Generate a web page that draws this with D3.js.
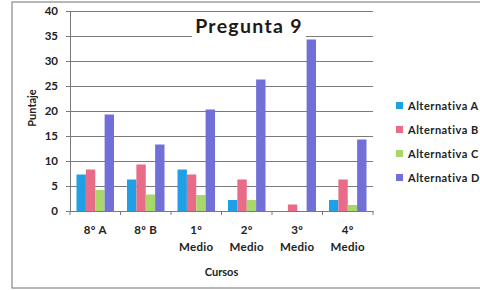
<!DOCTYPE html>
<html><head><meta charset="utf-8">
<script src="https://cdn.jsdelivr.net/npm/d3@7"></script>
<style>body{margin:0;background:#fff}svg{display:block}</style>
</head><body>
<svg id="c" width="480" height="290"></svg>
<script>
const categories = [["8º A"],["8º B"],["1º","Medio"],["2º","Medio"],["3º","Medio"],["4º","Medio"]];
const seriesNames = ["Alternativa A","Alternativa B","Alternativa C","Alternativa D"];
const altA = [7.3, 6.3, 8.3, 2.2, 0, 2.2];
const altB = [8.3, 9.3, 7.3, 6.3, 1.3, 6.3];
const altC = [4.2, 3.3, 3.2, 2.2, 0, 1.2];
const altD = [19.3, 13.3, 20.3, 26.3, 34.3, 14.3];
const yTicks = [0,5,10,15,20,25,30,35,40];
const colors = ["#1e9fe6","#e86c88","#a8d86c","#7070d8"];
const series = [altA, altB, altC, altD];

(function(){
const svg = d3.select("#c");
const font = "Lato, 'Open Sans', sans-serif";
// outer frame
svg.append("rect").attr("x",12).attr("y",2).attr("width",480).attr("height",286)
  .attr("fill","#fff").attr("stroke","#888").attr("stroke-width",1.2);

const pl = 70, pr = 373, pt = 11, pb = 211;
const x = d3.scaleBand().domain(d3.range(categories.length)).range([pl, pr]);
const y = d3.scaleLinear().domain([0,40]).range([pb, pt]);
const xs = d3.scaleBand().domain(d3.range(series.length)).range([6.5, x.bandwidth()-6.5]);

// gridlines
svg.append("g").selectAll("line").data(yTicks).join("line")
  .attr("x1", pl-4).attr("x2", pr).attr("y1", d=>y(d)+0.5).attr("y2", d=>y(d)+0.5)
  .attr("stroke","#7a7a7a").attr("stroke-width",1);

// title with white backing
const tg = svg.append("g");
tg.append("rect").attr("x",192).attr("y",26).attr("width",114).attr("height",14).attr("fill","#fff");
tg.append("text").attr("x",249).attr("y",33).attr("text-anchor","middle")
  .attr("font-family",font).attr("font-weight","bold").attr("font-size",19.5)
  .attr("letter-spacing",1.3).attr("fill","#1a1a1a")
  .text("Pregunta 9");

// bars
series.forEach((s, si) => {
  svg.append("g").selectAll("rect").data(s).join("rect")
    .attr("x", (d,i)=>x(i)+xs(si)).attr("width", xs.bandwidth())
    .attr("y", d=>y(d)).attr("height", d=>y(0)-y(d)).attr("fill", colors[si]);
});

// y axis
const ya = svg.append("g").attr("transform",`translate(${pl},0)`)
  .call(d3.axisLeft(y).tickValues(yTicks).tickSize(4).tickPadding(8));
ya.select(".domain").attr("stroke","#7a7a7a");
ya.selectAll(".tick line").attr("stroke","#7a7a7a");
ya.selectAll("text").attr("font-family",font).attr("font-weight","bold").attr("font-size",11.5).attr("fill","#222");

// x axis
const xa = svg.append("g").attr("transform",`translate(0,${pb})`)
  .call(d3.axisBottom(x).tickValues([]).tickSizeOuter(0));
xa.select(".domain").attr("stroke","#7a7a7a");
const xt = d3.range(categories.length+1).map(i => pl + i*x.bandwidth());
svg.append("g").selectAll("line").data(xt).join("line")
  .attr("x1",d=>d).attr("x2",d=>d).attr("y1",pb).attr("y2",pb+4).attr("stroke","#7a7a7a");
svg.append("g").selectAll("text").data(categories).join("text")
  .attr("x",(d,i)=>x(i)+x.bandwidth()/2).attr("y",234)
  .attr("text-anchor","middle").attr("font-family",font).attr("font-weight","bold")
  .attr("font-size",11.5).attr("letter-spacing",0.3).attr("fill","#222")
  .each(function(d){
    const t = d3.select(this);
    d.forEach((line, k) => t.append("tspan").attr("x", t.attr("x")).attr("dy", k===0?0:17).text(line));
  });

// axis titles
svg.append("text").attr("x",(pl+pr)/2).attr("y",276).attr("text-anchor","middle")
  .attr("font-family",font).attr("font-weight","bold").attr("font-size",11).attr("fill","#222").text("Cursos");
svg.append("text").attr("transform","translate(36,108) rotate(-90)").attr("text-anchor","middle")
  .attr("font-family",font).attr("font-weight","bold").attr("font-size",11).attr("fill","#222").text("Puntaje");

// legend
const lg = svg.append("g").selectAll("g").data(seriesNames).join("g")
  .attr("transform",(d,i)=>`translate(396,${106 + i*24})`);
lg.append("rect").attr("x",0).attr("y",-4).attr("width",7).attr("height",7).attr("fill",(d,i)=>colors[i]);
lg.append("text").attr("x",12).attr("y",3.5).attr("font-family",font).attr("font-weight","bold")
  .attr("font-size",11).attr("letter-spacing",0.5).attr("fill","#222").text(d=>d);
})();
</script>
</body></html>
